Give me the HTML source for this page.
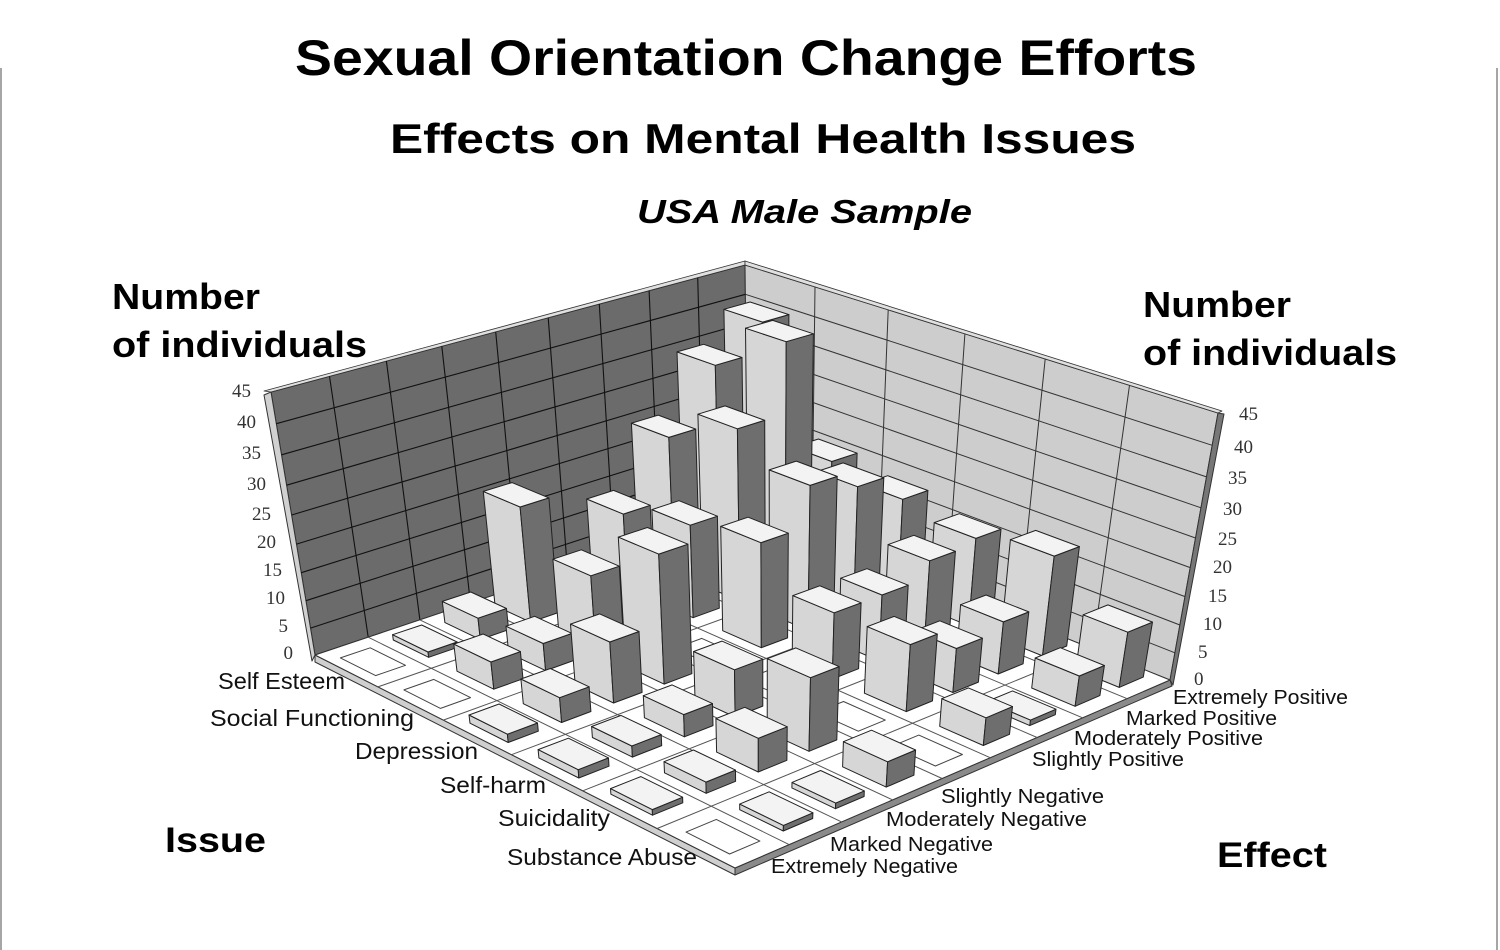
<!DOCTYPE html>
<html><head><meta charset="utf-8"><style>
html,body{margin:0;padding:0;background:#fff;}
svg{display:block;}
.t{font-family:"Liberation Sans",Arial,sans-serif;font-weight:bold;fill:#000;}
.lab{font-family:"Liberation Sans",Arial,sans-serif;fill:#111;}
.num{font-family:"Liberation Serif",serif;fill:#333;font-size:19px;}
</style></head><body>
<svg id="s" width="1500" height="950" viewBox="0 0 1500 950" xmlns="http://www.w3.org/2000/svg">
<rect width="1500" height="950" fill="#fff"/>
<line x1="1" y1="68" x2="1" y2="950" stroke="#888" stroke-width="1.5"/>
<line x1="1497" y1="68" x2="1497" y2="950" stroke="#888" stroke-width="1.5"/>
<text class="t" x="295" y="75" font-size="50" textLength="902" lengthAdjust="spacingAndGlyphs">Sexual Orientation Change Efforts</text>
<text class="t" x="390" y="153" font-size="42" textLength="746" lengthAdjust="spacingAndGlyphs">Effects on Mental Health Issues</text>
<text class="t" x="637" y="223" font-size="33" font-style="italic" textLength="335" lengthAdjust="spacingAndGlyphs">USA Male Sample</text>
<text class="t" x="112" y="309" font-size="36" textLength="148" lengthAdjust="spacingAndGlyphs">Number</text>
<text class="t" x="112" y="357" font-size="36" textLength="255" lengthAdjust="spacingAndGlyphs">of individuals</text>
<text class="t" x="1143" y="317" font-size="36" textLength="148" lengthAdjust="spacingAndGlyphs">Number</text>
<text class="t" x="1143" y="365" font-size="36" textLength="254" lengthAdjust="spacingAndGlyphs">of individuals</text>
<text class="t" x="165" y="852" font-size="35" textLength="101" lengthAdjust="spacingAndGlyphs">Issue</text>
<text class="t" x="1217" y="867" font-size="35" textLength="110" lengthAdjust="spacingAndGlyphs">Effect</text>
<g id="chart"></g>
<g font-size="23" class="lab" text-anchor="end">
<text x="345" y="689" textLength="127" lengthAdjust="spacingAndGlyphs">Self Esteem</text>
<text x="414" y="726" textLength="204" lengthAdjust="spacingAndGlyphs">Social Functioning</text>
<text x="478" y="759" textLength="123" lengthAdjust="spacingAndGlyphs">Depression</text>
<text x="546" y="793" textLength="106" lengthAdjust="spacingAndGlyphs">Self-harm</text>
<text x="610" y="826" textLength="112" lengthAdjust="spacingAndGlyphs">Suicidality</text>
<text x="697" y="865" textLength="190" lengthAdjust="spacingAndGlyphs">Substance Abuse</text>
</g>
<g font-size="20" class="lab">
<text x="1173" y="704" textLength="175" lengthAdjust="spacingAndGlyphs">Extremely Positive</text>
<text x="1126" y="725" textLength="151" lengthAdjust="spacingAndGlyphs">Marked Positive</text>
<text x="1074" y="745" textLength="189" lengthAdjust="spacingAndGlyphs">Moderately Positive</text>
<text x="1032" y="766" textLength="152" lengthAdjust="spacingAndGlyphs">Slightly Positive</text>
<text x="941" y="803" textLength="163" lengthAdjust="spacingAndGlyphs">Slightly Negative</text>
<text x="886" y="826" textLength="201" lengthAdjust="spacingAndGlyphs">Moderately Negative</text>
<text x="830" y="851" textLength="163" lengthAdjust="spacingAndGlyphs">Marked Negative</text>
<text x="771" y="873" textLength="187" lengthAdjust="spacingAndGlyphs">Extremely Negative</text>
</g>
<g class="num" text-anchor="end">
<text x="293" y="659">0</text><text x="288" y="632">5</text><text x="285" y="604">10</text><text x="282" y="576">15</text><text x="276" y="548">20</text><text x="271" y="520">25</text><text x="266" y="490">30</text><text x="261" y="459">35</text><text x="256" y="428">40</text><text x="251" y="397">45</text>
</g>
<g class="num">
<text x="1239" y="420">45</text><text x="1234" y="453">40</text><text x="1228" y="484">35</text><text x="1223" y="515">30</text><text x="1218" y="545">25</text><text x="1213" y="573">20</text><text x="1208" y="602">15</text><text x="1203" y="630">10</text><text x="1198" y="658">5</text><text x="1194" y="685">0</text>
</g>
</svg>
<script>
(function(){
function H(q){
  var x0=q[0][0],y0=q[0][1],x1=q[1][0],y1=q[1][1],x2=q[2][0],y2=q[2][1],x3=q[3][0],y3=q[3][1];
  var sx=x0-x1+x2-x3, sy=y0-y1+y2-y3;
  var dx1=x1-x2,dx2=x3-x2,dy1=y1-y2,dy2=y3-y2;
  var den=dx1*dy2-dx2*dy1;
  var g=(sx*dy2-dx2*sy)/den, h=(dx1*sy-sx*dy1)/den;
  var a=x1-x0+g*x1,b=x3-x0+h*x3,c=x0,d=y1-y0+g*y1,e=y3-y0+h*y3,f=y0;
  return function(u,v){var w=g*u+h*v+1;return [(a*u+b*v+c)/w,(d*u+e*v+f)/w];};
}
var L0=[315,655],B0=[748,510],R0=[1170,680],F0=[735,868];
var L45=[271,392],B45=[745,265],R45=[1218,413],F45=[732,584];
var V=[765,3343];
var H0=H([L0,B0,R0,F0]), H45=H([L45,B45,R45,F45]);
function P(u,v,z){
  var p0=H0(u,v),p1=H45(u,v);
  var c=(p0[1]-p1[1])/(45*(p1[1]-V[1]));
  var k=z*(1+45*c)/(45*(1+z*c));
  return [p0[0]+(p1[0]-p0[0])*k,p0[1]+(p1[1]-p0[1])*k];
}
var out=[];
function poly(pts,fill,stroke,sw){
  out.push('<polygon points="'+pts.map(function(p){return p[0].toFixed(1)+','+p[1].toFixed(1);}).join(' ')+'" fill="'+fill+'" stroke="'+(stroke||'none')+'" stroke-width="'+(sw||1)+'" stroke-linejoin="round"/>');
}
function line(a,b,col,sw){
  out.push('<line x1="'+a[0].toFixed(1)+'" y1="'+a[1].toFixed(1)+'" x2="'+b[0].toFixed(1)+'" y2="'+b[1].toFixed(1)+'" stroke="'+col+'" stroke-width="'+(sw||1)+'"/>');
}
poly([L0,F0,[F0[0],F0[1]+7],[L0[0],L0[1]+7]],'#cfcfcf','#333',1);
poly([F0,R0,[R0[0]+2,R0[1]+6],[F0[0],F0[1]+7]],'#8a8a8a','#333',1);
poly([P(0,0,0),P(1,0,0),P(1,0,45),P(0,0,45)],'#6b6b6b','#222',1);
poly([P(1,0,0),P(1,1,0),P(1,1,45),P(1,0,45)],'#cdcdcd','#333',1);
poly([L45,L0,[L0[0]-3,L0[1]+6],[L45[0]-7,L45[1]+3]],'#d0d0d0','#333',1);
poly([L45,B45,[B45[0],B45[1]-4],[L45[0]-7,L45[1]-1]],'#e0e0e0','#333',0.8);
poly([B45,R45,[R45[0]+4,R45[1]-2],[B45[0],B45[1]-4]],'#e0e0e0','#333',0.8);
poly([R45,R0,[R0[0]+3,R0[1]+5],[R45[0]+6,R45[1]+1]],'#777','#333',1);
var z,i,j;
for(z=5;z<45;z+=5){line(P(0,0,z),P(1,0,z),'#111',1.1);line(P(1,0,z),P(1,1,z),'#333',1);}
for(j=1;j<9;j++){line(P(j/9,0,0),P(j/9,0,45),'#111',1.1);}
for(i=1;i<6;i++){line(P(1,i/6,0),P(1,i/6,45),'#333',1);}
poly([P(0,0,0),P(1,0,0),P(1,1,0),P(0,1,0)],'#fff','#333',1);
for(j=1;j<9;j++) line(P(j/9,0,0),P(j/9,1,0),'#555',1);
for(i=1;i<6;i++) line(P(0,i/6,0),P(1,i/6,0),'#555',1);
var D=[
 [0,1,4,21,0,14,25,35,40],
 [0,5,5,14,0,17,31,43,20],
 [1.5,4.5,11,23,0,19,26,23,18],
 [1.5,2,4,8.5,0,12,12,15,16],
 [1,2,6,13,0,12,8,9.5,18],
 [0,1,1,4.5,0,5,1,5.5,10]
];
var cells=[];
for(i=0;i<6;i++)for(j=0;j<9;j++)cells.push([i,j]);
cells.sort(function(a,b){return (a[0]-a[1])-(b[0]-b[1]) || a[0]-b[0];});
var g=0.22;
cells.forEach(function(c){
  var i=c[0],j=c[1],h=D[i][j];
  var u0=(j+g)/9,u1=(j+1-g)/9,v0=(i+g)/6,v1=(i+1-g)/6;
  if(h<=0){poly([P(u0,v0,0),P(u1,v0,0),P(u1,v1,0),P(u0,v1,0)],'#fff','#444',1);return;}
  poly([P(u0,v0,0),P(u0,v1,0),P(u0,v1,h),P(u0,v0,h)],'#d6d6d6','#222',1);
  poly([P(u0,v1,0),P(u1,v1,0),P(u1,v1,h),P(u0,v1,h)],'#6e6e6e','#222',1);
  poly([P(u0,v0,h),P(u1,v0,h),P(u1,v1,h),P(u0,v1,h)],'#f3f3f3','#222',1);
});
document.getElementById('chart').innerHTML=out.join('');
})();
</script>
</body></html>
